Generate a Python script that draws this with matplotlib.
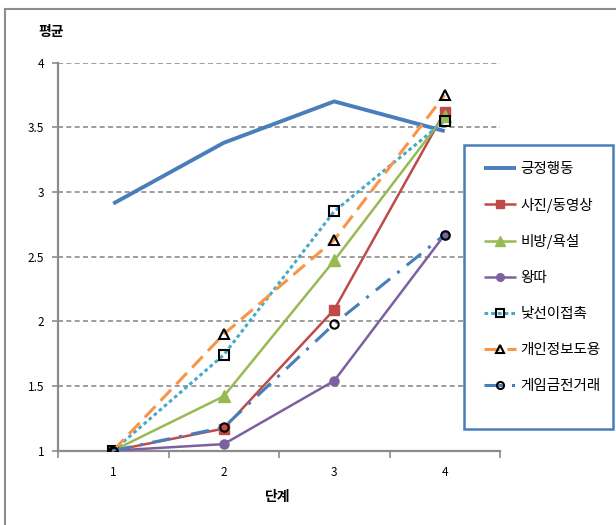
import matplotlib
matplotlib.use("Agg")
import matplotlib.pyplot as plt
from matplotlib.patches import Rectangle
from matplotlib.lines import Line2D

plt.rcParams['font.family'] = ['Noto Sans CJK KR', 'DejaVu Sans']

stages = [1, 2, 3, 4]
stage_labels = ["1", "2", "3", "4"]
y_ticks = [1, 1.5, 2, 2.5, 3, 3.5, 4]
y_tick_labels = ["1", "1.5", "2", "2.5", "3", "3.5", "4"]

series_names = ["긍정행동", "사진/동영상", "비방/욕설", "왕따", "낯선이접촉", "개인정보도용", "게임금전거래"]
positive = [2.91, 3.38, 3.70, 3.47]
photo_video = [1.00, 1.17, 2.09, 3.62]
slander = [1.00, 1.42, 2.47, 3.59]
bullying = [1.00, 1.05, 1.54, 2.67]
stranger = [1.00, 1.74, 2.85, 3.55]
identity = [1.00, 1.90, 2.63, 3.75]
game_money = [1.00, 1.18, 1.98, 2.67]
values = [positive, photo_video, slander, bullying, stranger, identity, game_money]

# line / marker styles per series (Excel 2007 palette)
styles = [
    dict(color="#4a7ebb", lw=2.8, ls="-", marker=None),
    dict(color="#be4b48", lw=1.8, ls="-", marker="s", ms=7, mfc="#be4b48", mec="#be4b48"),
    dict(color="#98b954", lw=1.8, ls="-", marker="^", ms=8, mfc="#98b954", mec="#98b954"),
    dict(color="#7d60a0", lw=1.8, ls="-", marker="o", ms=6.5, mfc="#7d60a0", mec="#7d60a0"),
    dict(color="#46aac5", lw=2.2, ls=(0, (1.2, 1.0)), marker="s", ms=6.5, mfc="none", mec="black", mew=1.5),
    dict(color="#f79646", lw=2.2, ls=(0, (5, 2.5)), marker="^", ms=7, mfc="none", mec="black", mew=1.5),
    dict(color="#4a7ebb", lw=2.2, ls=(0, (6, 3, 1, 3)), marker="o", ms=6, mfc="none", mec="black", mew=1.5),
]

W, H = 616, 525
fig = plt.figure(figsize=(W / 100, H / 100), dpi=100)
ax = fig.add_axes([58 / W, 1 - 450.6 / H, 442 / W, 388 / H])

grid_color = "#8c8c8c"
for yv in y_ticks[1:]:
    ax.axhline(yv, color=grid_color, lw=1.2, ls=(0, (3, 2)), zorder=1)

for name, vals, st in zip(series_names, values, styles):
    st = dict(st)
    ax.plot(stages, vals, label=name, color=st.pop("color"), lw=st.pop("lw"),
            ls=st.pop("ls"), marker=st.pop("marker"), zorder=3,
            solid_capstyle="butt", dash_capstyle="butt", **st)

ax.set_xlim(0.5, 4.5)
ax.set_ylim(1, 4)
ax.set_yticks(y_ticks)
ax.set_yticklabels(y_tick_labels, fontsize=8.5)
ax.set_xticks([0.5, 1.5, 2.5, 3.5, 4.5])
ax.set_xticklabels([])
ax.set_xticks(stages, minor=True)
ax.set_xticklabels(stage_labels, minor=True, fontsize=8.5)
ax.tick_params(axis="x", which="major", length=5, width=1.2, color=grid_color, direction="out")
ax.tick_params(axis="x", which="minor", length=0, pad=11)
ax.tick_params(axis="y", length=4, width=1.2, color=grid_color, direction="out", pad=6)

for side in ["top", "right"]:
    ax.spines[side].set_visible(False)
for side in ["left", "bottom"]:
    ax.spines[side].set_color(grid_color)
    ax.spines[side].set_linewidth(1.6)
    ax.spines[side].set_zorder(2)

fig.text(38 / W, 1 - 32 / H, "평균", fontsize=10, fontweight="bold", va="center", ha="left")
fig.text(278 / W, 1 - 497 / H, "단계", fontsize=10, fontweight="bold", va="center", ha="center")

# outer chart border (left and top edges)
fig.add_artist(Line2D([5 / W, 5 / W], [0, 1 - 9 / H], color="#8c8c8c", lw=1.5))
fig.add_artist(Line2D([5 / W, 1], [1 - 9 / H, 1 - 9 / H], color="#8c8c8c", lw=1.5))

# legend box
fig.add_artist(Rectangle((464 / W, 1 - 428.5 / H), 149 / W, 284 / H,
                         transform=fig.transFigure, facecolor="white",
                         edgecolor="#4a7ebb", lw=1.8, zorder=4))
handles, labels = ax.get_legend_handles_labels()
leg = fig.legend(handles, labels, loc="upper left", bbox_to_anchor=(472 / W, 1 - 150 / H),
                 frameon=False, fontsize=10.5, handlelength=2.2, handletextpad=0.3,
                 labelspacing=1.5, borderpad=0.3, markerscale=0.85)
leg.set_zorder(5)

fig.savefig("out.png", dpi=100)
